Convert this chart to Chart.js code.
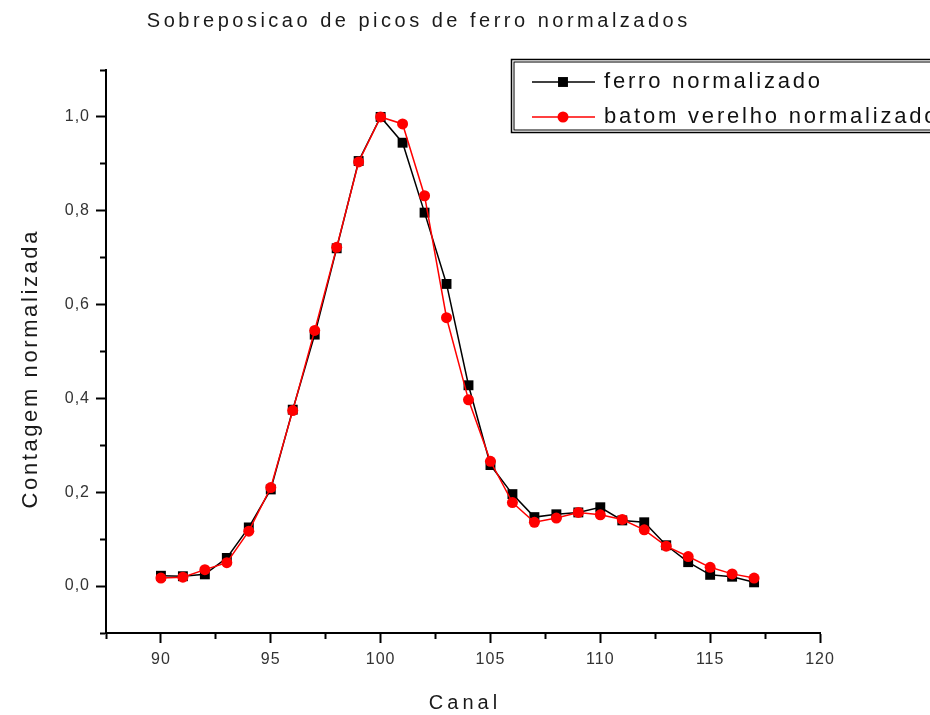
<!DOCTYPE html>
<html>
<head>
<meta charset="utf-8">
<script src="https://cdn.jsdelivr.net/npm/chart.js@4/dist/chart.umd.min.js"></script>
<style>
  html, body { margin: 0; padding: 0; background: #fff; }
  canvas { display: block; }
</style>
</head>
<body>
<canvas id="chart" width="930" height="715"></canvas>
<script>
// Texts
const TITLE = 'Sobreposicao de picos de ferro normalzados';
const X_TITLE = 'Canal';
const Y_TITLE = 'Contagem normalizada';
const SERIES_NAMES = ['ferro normalizado', 'batom verelho normalizado'];

// Channel numbers
const CANAL = [90, 91, 92, 93, 94, 95, 96, 97, 98, 99, 100, 101, 102, 103,
               104, 105, 106, 107, 108, 109, 110, 111, 112, 113, 114, 115, 116, 117];

// Normalised counts, iron reference
const FERRO = [0.022, 0.021, 0.025, 0.060, 0.125, 0.206, 0.376, 0.536, 0.720, 0.906,
               1.000, 0.945, 0.796, 0.644, 0.428, 0.258, 0.196, 0.147, 0.153, 0.157,
               0.168, 0.140, 0.136, 0.087, 0.051, 0.024, 0.020, 0.008];

// Normalised counts, red lipstick
const BATOM = [0.017, 0.019, 0.035, 0.050, 0.117, 0.210, 0.374, 0.545, 0.722, 0.904,
               1.000, 0.985, 0.832, 0.572, 0.397, 0.266, 0.178, 0.136, 0.145, 0.157,
               0.152, 0.142, 0.120, 0.085, 0.063, 0.040, 0.026, 0.017];

// Labelled ticks (minor ticks in between stay unlabelled)
const X_LABELS = [90, 95, 100, 105, 110, 115, 120];
const Y_LABELS = [0.0, 0.2, 0.4, 0.6, 0.8, 1.0];

const FONT = "'Liberation Sans', Arial, sans-serif";

function toPoints(xs, ys) {
  return xs.map((x, i) => ({ x: x, y: ys[i] }));
}
function isLabelled(list, v) {
  return list.some(t => Math.abs(t - v) < 1e-6);
}

// Draws a text with extra letter spacing (optionally rotated)
function spacedText(ctx, text, x, y, size, spacing, color, angle) {
  ctx.save();
  ctx.translate(x, y);
  if (angle) ctx.rotate(angle);
  ctx.font = size + 'px ' + FONT;
  ctx.letterSpacing = spacing + 'px';
  ctx.fillStyle = color;
  ctx.textAlign = 'center';
  ctx.textBaseline = 'middle';
  ctx.fillText(text, spacing / 2, 0);
  ctx.restore();
}

// Title and axis titles
const titlesPlugin = {
  id: 'titles',
  beforeDraw(chart) {
    chart.ctx.letterSpacing = '1px';
  },
  afterDraw(chart) {
    const ctx = chart.ctx;
    const a = chart.chartArea;
    spacedText(ctx, TITLE, 417, 21, 20, 3.5, '#1a1a1a', 0);
    spacedText(ctx, X_TITLE, (a.left + a.right) / 2, 703, 20, 4, '#1a1a1a', 0);
    spacedText(ctx, Y_TITLE, 31, 370, 22, 2.6, '#1a1a1a', -Math.PI / 2);
  }
};

function drawMarker(ctx, ds, x, y) {
  ctx.fillStyle = ds.pointBackgroundColor;
  const r = ds.pointRadius;
  ctx.beginPath();
  if (ds.pointStyle === 'rect') {
    const h = r * Math.SQRT1_2;
    ctx.rect(x - h, y - h, 2 * h, 2 * h);
  } else {
    ctx.arc(x, y, r, 0, Math.PI * 2);
  }
  ctx.fill();
}

// Framed legend in the upper right corner
const legendBoxPlugin = {
  id: 'legendBox',
  afterDraw(chart) {
    const ctx = chart.ctx;
    const box = { left: 511.5, top: 59.5, width: 440, height: 73 };
    ctx.save();
    ctx.letterSpacing = '0px';
    ctx.strokeStyle = '#000';
    ctx.lineWidth = 1.5;
    ctx.strokeRect(box.left, box.top, box.width, box.height);
    ctx.lineWidth = 1;
    ctx.strokeRect(box.left + 2.5, box.top + 2.5, box.width - 5, box.height - 5);

    const rows = [82, 117];
    chart.data.datasets.forEach((ds, i) => {
      const y = rows[i];
      ctx.strokeStyle = ds.borderColor;
      ctx.lineWidth = 1.5;
      ctx.beginPath();
      ctx.moveTo(532, y);
      ctx.lineTo(595, y);
      ctx.stroke();
      drawMarker(ctx, ds, 563, y);
    });
    ctx.restore();
    chart.data.datasets.forEach((ds, i) => {
      ctx.save();
      ctx.font = '22px ' + FONT;
      ctx.letterSpacing = '2.8px';
      ctx.fillStyle = '#111';
      ctx.textAlign = 'left';
      ctx.textBaseline = 'middle';
      ctx.fillText(ds.label, 604, rows[i]);
      ctx.restore();
    });
  }
};

const tickFont = { family: FONT, size: 16 };

new Chart(document.getElementById('chart'), {
  type: 'scatter',
  data: {
    datasets: [
      {
        label: SERIES_NAMES[0],
        data: toPoints(CANAL, FERRO),
        showLine: true,
        borderColor: '#000000',
        borderWidth: 1.5,
        pointStyle: 'rect',
        pointRadius: 7,
        pointBackgroundColor: '#000000',
        pointBorderWidth: 0,
        order: 2
      },
      {
        label: SERIES_NAMES[1],
        data: toPoints(CANAL, BATOM),
        showLine: true,
        borderColor: '#ff0000',
        borderWidth: 1.5,
        pointStyle: 'circle',
        pointRadius: 5.5,
        pointBackgroundColor: '#ff0000',
        pointBorderWidth: 0,
        order: 1
      }
    ]
  },
  options: {
    responsive: false,
    animation: false,
    devicePixelRatio: 1,
    layout: { padding: { left: 0, top: 70, right: 110, bottom: 0 } },
    plugins: {
      legend: { display: false },
      title: { display: false },
      tooltip: { enabled: false }
    },
    scales: {
      x: {
        type: 'linear',
        position: 'bottom',
        min: 87.5,
        max: 120,
        afterFit(scale) { scale.height = 82; },
        ticks: {
          stepSize: 2.5,
          autoSkip: false,
          maxRotation: 0,
          font: tickFont,
          color: '#333',
          padding: 7,
          callback: v => isLabelled(X_LABELS, v) ? String(v) : ''
        },
        grid: {
          drawOnChartArea: false,
          drawTicks: true,
          tickLength: 10,
          tickColor: '#000',
          tickWidth: 2,
          tickBorderDash: c => (c.tick && isLabelled(X_LABELS, c.tick.value)) ? [] : [5, 20]
        },
        border: { display: true, color: '#000', width: 2 }
      },
      y: {
        type: 'linear',
        position: 'left',
        min: -0.1,
        max: 1.1,
        afterFit(scale) { scale.width = 106; },
        ticks: {
          stepSize: 0.1,
          autoSkip: false,
          font: tickFont,
          color: '#333',
          padding: 6,
          callback: v => isLabelled(Y_LABELS, v) ? v.toFixed(1).replace('.', ',') : ''
        },
        grid: {
          drawOnChartArea: false,
          drawTicks: true,
          tickLength: 10,
          tickColor: '#000',
          tickWidth: 2,
          tickBorderDash: c => (c.tick && isLabelled(Y_LABELS, c.tick.value)) ? [] : [0, 4, 20, 0]
        },
        border: { display: true, color: '#000', width: 2 }
      }
    }
  },
  plugins: [titlesPlugin, legendBoxPlugin]
});
</script>
</body>
</html>
